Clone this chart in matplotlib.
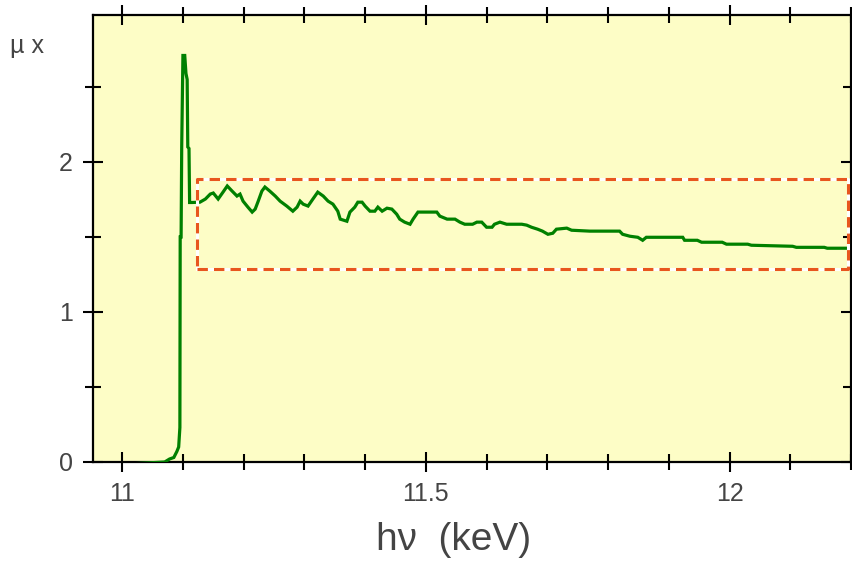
import matplotlib
matplotlib.use("Agg")
import numpy as np
from matplotlib import pyplot as plt
from matplotlib.ticker import MultipleLocator

matplotlib.rcParams['font.family'] = ['Liberation Sans', 'DejaVu Sans']

# absorption spectrum, energy in keV and mu*x
energy = [11.025, 11.070, 11.078, 11.085, 11.090, 11.093, 11.095, 11.0955, 11.097, 11.098,
          11.100, 11.103, 11.105, 11.107, 11.108, 11.110, 11.111, 11.115,
          11.128, 11.137, 11.145, 11.150, 11.158, 11.166, 11.173, 11.181, 11.189,
          11.194, 11.199, 11.207, 11.214, 11.219, 11.224, 11.230, 11.235, 11.243,
          11.252, 11.260, 11.271, 11.281, 11.288, 11.293, 11.298, 11.306, 11.314,
          11.322, 11.331, 11.339, 11.347, 11.355, 11.359, 11.370,
          11.375, 11.383, 11.388, 11.395, 11.400, 11.408, 11.416, 11.421, 11.428,
          11.436, 11.444, 11.452, 11.457, 11.465, 11.474, 11.479, 11.487, 11.518,
          11.523, 11.535, 11.548, 11.556, 11.564, 11.577, 11.584, 11.592, 11.600,
          11.609, 11.613, 11.622,
          11.633, 11.646, 11.658, 11.666, 11.674, 11.684, 11.692, 11.701, 11.709,
          11.715, 11.732, 11.740, 11.770, 11.819, 11.824, 11.836, 11.849, 11.857,
          11.863, 11.901,
          11.923, 11.926, 11.947, 11.954, 11.988, 11.995, 12.030, 12.036, 12.104,
          12.110, 12.156, 12.161, 12.189, 12.195]
mux = [-0.01, 0.00, 0.02, 0.03, 0.07, 0.10, 0.23, 1.50, 1.50, 2.10,
       2.71, 2.71, 2.59, 2.55, 2.10, 2.09, 1.73, 1.73,
       1.732, 1.753, 1.786, 1.793, 1.753, 1.799, 1.840, 1.806, 1.773,
       1.786, 1.739, 1.699, 1.666, 1.686, 1.739, 1.806, 1.833, 1.806,
       1.773, 1.739, 1.706, 1.672, 1.699, 1.739, 1.719, 1.706, 1.753,
       1.799, 1.773, 1.739, 1.719, 1.672, 1.619, 1.605,
       1.666, 1.699, 1.732, 1.732, 1.706, 1.672, 1.672, 1.699, 1.672,
       1.692, 1.686, 1.652, 1.619, 1.599, 1.585, 1.619, 1.666, 1.666,
       1.639, 1.619, 1.619, 1.599, 1.585, 1.585, 1.599, 1.599, 1.565,
       1.565, 1.585, 1.599,
       1.585, 1.585, 1.585, 1.579, 1.565, 1.552, 1.539, 1.518, 1.525,
       1.552, 1.559, 1.545, 1.539, 1.539, 1.518, 1.505, 1.498, 1.478,
       1.498, 1.498,
       1.498, 1.478, 1.478, 1.465, 1.465, 1.452, 1.452, 1.445, 1.438,
       1.431, 1.431, 1.425, 1.425, 1.425]

# EXAFS region box
box_x = [11.123, 12.195]
box_y = [1.284, 1.886]

fig = plt.figure(figsize=(8.52, 5.63), dpi=100)
ax = fig.add_axes([0.1092, 0.1794, 0.8896, 0.794])
ax.set_facecolor('#fdfdc6')

ax.plot(energy, mux, color='#008000', lw=2.3, solid_joinstyle='miter', zorder=3)

bx = [box_x[0], box_x[1], box_x[1], box_x[0], box_x[0]]
by = [box_y[0], box_y[0], box_y[1], box_y[1], box_y[0]]
ax.plot(bx, by, color='white', lw=2.2, zorder=4)
ax.plot(bx, by, color='#e8561e', lw=2.2, zorder=5, dashes=(3.4, 2.0))

ax.set_xlim(10.952, 12.2)
ax.set_ylim(0, 2.98)

ax.xaxis.set_minor_locator(MultipleLocator(0.1))
ax.yaxis.set_minor_locator(MultipleLocator(0.5))
ax.set_xticks([11, 11.5, 12])
ax.set_xticklabels(['11', '11.5', '12'])
ax.set_yticks([0, 1, 2])
ax.set_yticklabels(['0', '1', '2'])

ax.tick_params(which='both', direction='inout', top=True, right=True,
               width=1.5, colors='black', labelcolor='#444444', labelsize=18)
ax.tick_params(which='major', length=15, pad=7)
ax.tick_params(which='minor', length=11)

for s in ax.spines.values():
    s.set_linewidth(1.6)

fig.text(0.532, 0.041, 'h\u03bd  (keV)', fontsize=28, color='#444444',
         ha='center', va='center')
fig.text(0.012, 0.905, '\u00b5 x', fontsize=18, color='#444444')

plt.savefig('out.png', dpi=100)
